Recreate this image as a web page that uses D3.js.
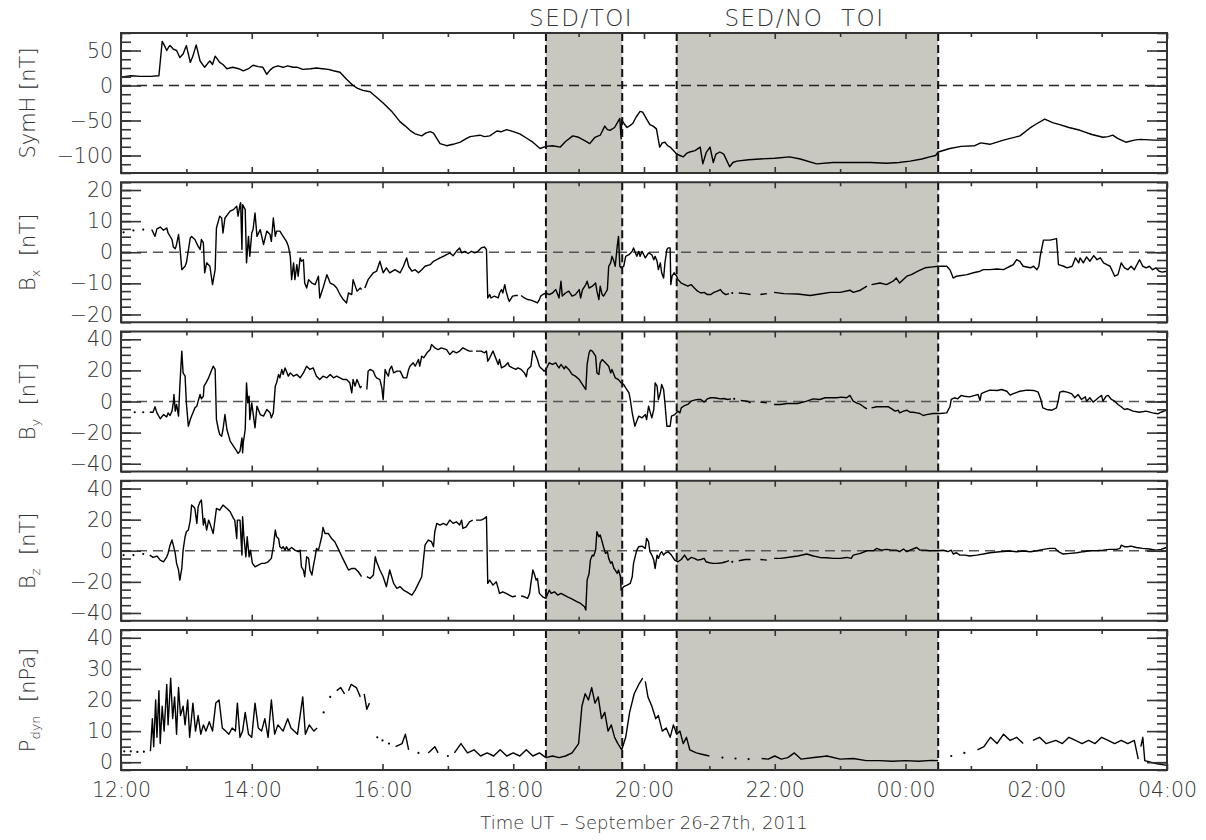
<!DOCTYPE html>
<html><head><meta charset="utf-8">
<script src="https://cdn.jsdelivr.net/npm/d3@7"></script>
<style>
body{margin:0;background:#fff}
text{font-family:"DejaVu Sans",sans-serif;fill:#333;font-weight:200}
</style>
</head><body>
<svg id="chart" width="1206" height="840"></svg>
<script>
// Time is given in hours after 12:00 UT, 26 September 2011.
const hourLabels = ["12:00","14:00","16:00","18:00","20:00","22:00","00:00","02:00","04:00"];
const majorHours = [0,2,4,6,8,10,12,14,16];
const sedIntervals = [
  {label:"SED/TOI", start:6.5, end:7.667},
  {label:"SED/NO TOI", start:8.5, end:12.5}
];

// SYM-H index [nT]
const symH = [[0,12],[0.15,14],[0.3,13],[0.45,13],[0.58,14],[0.63,63],[0.66,58],[0.70,50],[0.73,55],[0.75,57],[0.8,52],[0.85,50],[0.9,40],[0.95,45],[1.0,57],[1.06,33],[1.1,42],[1.15,58],[1.21,35],[1.28,26],[1.33,32],[1.36,35],[1.4,30],[1.44,42],[1.48,37],[1.51,33],[1.56,30],[1.62,24],[1.71,26],[1.8,24],[1.87,21],[1.95,24],[2.02,29],[2.1,27],[2.17,26],[2.23,16],[2.28,22],[2.33,26],[2.4,28],[2.48,26],[2.55,28],[2.63,26],[2.7,26],[2.78,23],[2.9,24],[2.99,25],[3.08,24],[3.17,23],[3.25,21],[3.35,19],[3.45,9],[3.55,0],[3.62,-4],[3.70,-7],[3.81,-9],[3.9,-16],[4.01,-25],[4.15,-38],[4.27,-52],[4.35,-58],[4.42,-64],[4.5,-69],[4.60,-72],[4.66,-68],[4.73,-66],[4.78,-68],[4.88,-83],[4.98,-86],[5.08,-84],[5.19,-81],[5.28,-76],[5.34,-73],[5.42,-72],[5.49,-71],[5.56,-73],[5.64,-72],[5.75,-65],[5.82,-66],[5.90,-63],[6.0,-66],[6.10,-69],[6.2,-75],[6.30,-81],[6.41,-90],[6.50,-87],[6.6,-86],[6.72,-88],[6.8,-80],[6.91,-72],[7.0,-74],[7.1,-79],[7.17,-83],[7.25,-74],[7.33,-71],[7.40,-58],[7.44,-63],[7.48,-64],[7.55,-60],[7.63,-47],[7.65,-76],[7.66,-49],[7.7,-55],[7.74,-60],[7.79,-57],[7.83,-54],[7.88,-45],[7.94,-37],[7.98,-38],[8.04,-48],[8.09,-56],[8.14,-58],[8.19,-62],[8.24,-88],[8.28,-82],[8.32,-81],[8.36,-86],[8.40,-88],[8.45,-93],[8.50,-98],[8.55,-100],[8.60,-102],[8.65,-97],[8.70,-95],[8.78,-93],[8.86,-88],[8.90,-112],[8.95,-96],[9.01,-88],[9.06,-110],[9.1,-98],[9.16,-95],[9.22,-98],[9.31,-116],[9.36,-110],[9.42,-108],[9.6,-106],[9.77,-105],[10.0,-104],[10.23,-102],[10.39,-105],[10.64,-112],[10.89,-110],[11.2,-110],[11.46,-110],[11.71,-111],[11.9,-110],[12.07,-108],[12.25,-105],[12.37,-102],[12.46,-100],[12.50,-95],[12.68,-90],[12.85,-87],[13.06,-86],[13.15,-82],[13.29,-84],[13.5,-78],[13.75,-72],[13.90,-61],[14.0,-55],[14.13,-48],[14.25,-53],[14.36,-56],[14.5,-60],[14.67,-64],[14.85,-70],[15.02,-74],[15.1,-73],[15.17,-71],[15.25,-76],[15.37,-81],[15.5,-78],[15.59,-77],[15.8,-78],[16.0,-78]];

// IMF Bx [nT]
const bx = [[0.04,6.4],null,[0.19,7.0],null,[0.34,7.3],null,[0.47,7.3],[0.52,5.1],[0.55,7.5],[0.60,8.1],[0.65,7.1],[0.70,7.8],[0.72,6.2],[0.78,4.1],[0.80,1.7],[0.83,1.1],[0.85,2.5],[0.88,5.7],[0.90,1.9],[0.93,-5.6],[0.98,-4.5],[1.00,-3.4],[1.06,4.6],[1.08,5.1],[1.13,4.1],[1.18,1.9],[1.21,0.9],[1.23,4.1],[1.26,3.0],[1.28,-6.6],[1.31,-3.4],[1.36,-4.5],[1.40,-10.4],[1.44,-5.6],[1.46,7.8],[1.51,11.6],[1.54,11.0],[1.56,6.2],[1.59,11.0],[1.67,13.2],[1.72,13.7],[1.77,14.8],[1.79,11.6],[1.82,15.3],[1.83,15.9],[1.85,0.9],[1.86,15.3],[1.90,13.7],[1.92,-3.4],[1.95,5.1],[1.97,-1.3],[2.00,6.2],[2.02,7.3],[2.05,12.6],[2.08,5.1],[2.13,7.3],[2.18,2.5],[2.23,6.8],[2.28,5.7],[2.30,3.5],[2.33,11.0],[2.36,5.1],[2.38,6.8],[2.43,6.8],[2.48,5.1],[2.53,3.5],[2.56,1.9],[2.59,-1.3],[2.61,-8.8],[2.64,-3.4],[2.66,-8.8],[2.69,-4.0],[2.71,-7.7],[2.74,-1.8],[2.76,-2.9],[2.79,-2.4],[2.81,-9.9],[2.84,-11.5],[2.87,-8.8],[2.92,-9.9],[2.97,-10.4],[3.02,-7.7],[3.04,-14.7],[3.09,-11.5],[3.15,-7.2],[3.20,-9.9],[3.25,-10.4],[3.30,-11.5],[3.35,-13.6],[3.40,-15.2],[3.45,-16.3],[3.48,-13.1],[3.53,-13.6],[3.55,-8.8],[3.61,-12.5],[3.66,-11.5],[3.68,-12.0],null,[3.73,-11.5],[3.78,-8.8],[3.86,-6.6],[3.91,-6.1],[3.96,-2.9],[4.01,-6.6],[4.06,-5.0],[4.11,-6.6],[4.19,-5.6],[4.27,-6.6],[4.32,-4.5],[4.37,-1.8],[4.40,-4.5],[4.45,-6.1],[4.50,-5.6],[4.55,-6.6],[4.60,-5.6],[4.65,-4.5],[4.73,-4.0],[4.78,-2.9],[4.83,-2.4],[4.88,-1.8],[4.93,-1.3],[4.98,-0.8],[5.03,-0.2],[5.08,-1.1],[5.13,0.3],[5.18,1.4],[5.21,-0.2],[5.26,0.3],[5.31,-0.4],[5.36,0.3],[5.41,-0.2],[5.46,0.3],[5.51,1.4],[5.56,1.7],[5.59,0.9],[5.61,-14.7],[5.64,-13.6],[5.66,-14.7],[5.71,-14.1],[5.77,-14.7],[5.79,-13.1],[5.82,-12.0],[5.84,-13.1],[5.87,-10.4],[5.89,-12.5],[5.92,-14.7],[5.94,-15.8],[5.99,-14.1],[6.04,-13.9],[6.07,-13.9],null,[6.12,-13.9],[6.17,-14.7],[6.22,-15.2],[6.27,-15.4],[6.32,-15.8],[6.37,-16.3],[6.40,-15.2],[6.42,-14.1],[6.45,-13.6],[6.50,-13.1],[6.55,-13.6],[6.60,-13.1],[6.65,-12.0],[6.68,-13.6],[6.70,-14.7],[6.73,-9.3],[6.75,-14.1],[6.80,-13.1],[6.85,-12.5],[6.90,-14.1],[6.95,-13.6],[7.01,-12.0],[7.03,-14.7],[7.06,-12.0],[7.11,-10.4],[7.13,-9.3],[7.16,-11.5],[7.21,-10.9],[7.26,-9.9],[7.28,-12.5],[7.31,-15.2],[7.33,-10.9],[7.36,-13.6],[7.38,-14.1],[7.41,-13.1],[7.44,-12.0],[7.46,-4.5],[7.49,-3.4],[7.51,-1.3],[7.54,-2.9],[7.56,-4.5],[7.59,1.9],[7.61,5.1],[7.63,-4.5],[7.65,-5.0],[7.69,-4.5],[7.72,-1.3],[7.77,-0.8],[7.82,0.3],[7.84,1.4],[7.87,-0.2],[7.89,-1.3],[7.92,0.3],[7.94,-1.3],[7.97,0.3],[8.02,-1.8],[8.07,-0.2],[8.12,-0.8],[8.15,-2.4],[8.17,-1.3],[8.20,-2.9],[8.22,-5.6],[8.25,-3.4],[8.27,-6.6],[8.30,-8.3],[8.32,-3.4],[8.35,0.9],[8.37,1.4],[8.40,1.4],[8.41,-10.4],[8.43,-7.7],[8.46,-6.6],[8.50,-7.7],[8.52,-8.8],[8.57,-9.9],[8.62,-10.4],[8.67,-10.9],[8.72,-10.4],[8.77,-11.5],[8.82,-12.5],[8.87,-13.1],[8.92,-12.9],[8.97,-13.6],[9.02,-13.6],[9.07,-12.9],[9.12,-12.5],[9.17,-12.0],[9.20,-12.9],[9.25,-13.6],[9.30,-13.3],null,[9.35,-13.1],null,[9.45,-13.1],[9.55,-13.3],[9.63,-13.6],null,[9.78,-13.6],[9.88,-13.3],null,[9.99,-12.9],[10.14,-13.3],[10.35,-13.4],[10.54,-13.9],[10.69,-13.4],[10.85,-12.9],[11.00,-12.9],[11.15,-12.2],[11.20,-12.9],[11.31,-12.2],[11.41,-10.9],null,[11.48,-10.4],[11.61,-9.9],[11.71,-10.4],[11.81,-9.3],[11.86,-8.3],[11.91,-9.9],[12.02,-7.7],[12.09,-7.2],[12.14,-6.6],[12.19,-6.1],[12.24,-5.6],[12.30,-5.0],[12.42,-4.7],[12.50,-4.5],[12.63,-4.5],[12.68,-5.6],[12.73,-8.3],[12.78,-7.7],[12.94,-7.2],[13.04,-6.6],[13.14,-6.1],[13.19,-5.6],[13.29,-5.6],[13.40,-5.4],[13.50,-5.6],[13.55,-5.0],[13.60,-4.5],[13.65,-4.0],[13.70,-2.4],[13.75,-2.9],[13.80,-4.5],[13.91,-5.0],[13.96,-4.5],[14.01,-5.6],[14.04,-4.5],[14.06,-1.3],[14.11,3.9],[14.21,3.9],[14.31,4.4],[14.34,-4.0],[14.42,-4.5],[14.47,-5.0],[14.55,-4.5],[14.60,-1.8],[14.65,-3.4],[14.67,-1.8],[14.72,-3.4],[14.77,-1.5],[14.82,-2.9],[14.88,-1.1],[14.93,-2.4],[14.98,-1.8],[15.03,-3.4],[15.08,-4.0],[15.13,-4.5],[15.20,-7.7],[15.25,-7.2],[15.30,-3.4],[15.35,-5.0],[15.40,-5.6],[15.45,-4.5],[15.50,-5.6],[15.58,-2.4],[15.63,-4.5],[15.68,-5.0],[15.73,-4.5],[15.78,-5.6],[15.83,-5.0],[15.88,-6.1],[15.93,-6.4],[15.99,-6.1]];

// IMF By [nT]
const by = [[0.21,-6.9],null,[0.34,-6.9],null,[0.44,-6.9],[0.49,-6.9],[0.52,-3.4],[0.55,-7.3],[0.60,-11.1],[0.65,-8.4],[0.70,-9.9],[0.72,-7.3],[0.75,-9.0],[0.78,-6.2],[0.80,-0.9],[0.81,4.5],[0.83,-6.2],[0.85,-1.9],[0.88,-9.4],[0.90,9.9],[0.93,32.4],[0.95,18.4],[0.98,16.3],[1.00,-0.9],[1.03,-15.9],[1.06,-11.6],[1.08,-9.4],[1.11,-6.2],[1.13,-4.1],[1.16,-3.0],[1.18,0.2],[1.21,4.5],[1.23,1.7],[1.26,3.4],[1.27,9.9],[1.30,12.0],[1.34,15.2],[1.41,22.7],[1.44,20.6],[1.46,-11.6],[1.49,-18.0],[1.51,-21.2],[1.54,-22.3],[1.56,-18.0],[1.59,-8.4],[1.62,-18.0],[1.67,-25.5],[1.72,-28.7],[1.77,-31.9],[1.79,-33.4],[1.82,-31.9],[1.85,-23.4],[1.86,-33.0],[1.87,-26.6],[1.90,-18.0],[1.92,12.0],[1.94,-0.9],[1.96,3.4],[1.97,-11.6],[2.00,-0.9],[2.02,-7.3],[2.05,-16.9],[2.08,-3.0],[2.13,-8.4],[2.18,-9.4],[2.23,-5.1],[2.28,-7.3],[2.30,-10.5],[2.33,-7.3],[2.36,9.9],[2.38,12.0],[2.41,17.4],[2.43,15.2],[2.46,20.6],[2.48,17.4],[2.51,21.6],[2.53,19.5],[2.56,16.3],[2.59,18.4],[2.64,16.3],[2.69,17.4],[2.74,15.2],[2.79,18.4],[2.84,22.7],[2.89,20.6],[2.94,21.6],[2.99,16.3],[3.04,14.1],[3.09,16.3],[3.15,15.2],[3.20,17.4],[3.25,15.2],[3.30,16.3],[3.35,15.2],[3.40,14.1],[3.45,14.1],[3.50,12.0],[3.53,5.6],[3.55,14.1],[3.58,9.9],[3.61,14.1],[3.63,12.0],[3.66,8.8],[3.68,9.9],null,[3.76,7.7],[3.78,19.5],[3.81,20.6],[3.86,19.5],[3.89,16.3],[3.91,15.2],[3.96,14.1],[3.99,8.8],[4.01,1.3],[4.04,20.6],[4.06,18.4],[4.09,16.3],[4.11,20.6],[4.14,22.7],[4.17,18.4],[4.22,19.5],[4.27,19.5],[4.32,15.2],[4.37,15.2],[4.40,20.6],[4.42,22.7],[4.47,24.9],[4.50,22.7],[4.55,27.0],[4.57,22.7],[4.60,29.1],[4.63,28.1],[4.68,31.3],[4.73,33.4],[4.75,36.6],[4.80,34.5],[4.85,33.4],[4.90,34.5],[4.98,33.4],[5.03,30.2],[5.08,32.4],[5.13,31.3],[5.18,32.4],[5.23,34.5],[5.28,33.4],[5.33,32.4],[5.38,32.4],null,[5.43,32.4],[5.51,32.4],[5.56,31.3],[5.59,32.4],[5.61,25.9],[5.64,28.1],[5.69,32.4],[5.74,27.0],[5.77,23.8],[5.79,27.0],[5.82,21.6],[5.87,22.7],[5.92,24.9],[5.94,22.7],[5.99,21.6],[6.04,20.6],[6.07,21.6],[6.12,20.6],[6.17,18.4],[6.20,15.9],[6.22,20.6],[6.27,22.7],[6.30,32.4],[6.32,32.4],[6.35,29.1],[6.37,27.0],[6.40,22.7],[6.42,21.6],[6.45,20.6],[6.47,19.5],[6.50,20.6],[6.55,24.9],[6.60,23.8],[6.65,24.9],[6.68,22.7],[6.70,21.6],[6.73,23.8],[6.75,22.7],[6.78,21.0],[6.80,22.7],[6.85,20.6],[6.90,17.4],[6.95,16.3],[7.01,14.1],[7.06,10.9],[7.11,7.7],[7.13,23.8],[7.16,31.3],[7.18,33.0],[7.21,32.4],[7.26,29.1],[7.28,18.4],[7.31,17.4],[7.33,24.9],[7.36,27.0],[7.41,24.9],[7.46,22.7],[7.49,18.4],[7.51,20.6],[7.56,15.2],[7.61,14.1],[7.65,12.0],[7.69,10.9],[7.72,8.8],[7.77,5.6],[7.79,1.3],[7.82,-7.3],[7.86,-15.9],[7.89,-12.6],[7.92,-9.4],[7.97,-10.5],[8.02,-8.4],[8.04,-11.6],[8.07,-3.0],[8.09,-6.2],[8.12,-10.5],[8.15,-5.1],[8.17,12.0],[8.20,9.9],[8.22,1.3],[8.25,5.6],[8.27,10.9],[8.30,7.7],[8.32,-0.9],[8.35,-15.9],[8.40,-15.9],[8.42,-9.4],[8.47,-8.4],[8.52,-6.2],[8.55,-7.3],[8.57,-4.1],[8.62,-2.6],[8.67,-1.9],[8.72,0.2],[8.77,0.9],[8.82,1.3],[8.87,1.3],[8.92,-0.4],[8.97,1.7],[9.02,2.4],[9.07,2.4],[9.12,2.1],[9.17,1.7],[9.22,1.9],[9.28,1.3],[9.33,1.7],null,[9.38,1.7],null,[9.48,0.6],[9.58,0.2],[9.63,-0.9],null,[9.78,-0.4],[9.88,-0.9],null,[9.99,-1.9],[10.09,-1.9],[10.19,-1.3],[10.35,-1.3],[10.49,0.2],[10.59,1.7],[10.69,1.3],[10.77,2.4],[10.85,2.4],[10.95,2.4],[11.02,2.8],[11.10,2.4],[11.15,3.9],[11.17,2.4],[11.20,0.2],[11.25,-0.9],[11.31,-1.9],[11.36,-3.4],[11.41,-4.7],null,[11.48,-4.1],[11.56,-3.4],[11.66,-3.4],[11.74,-3.4],[11.79,-4.7],[11.84,-6.2],[11.89,-5.6],[11.91,-7.3],[11.97,-6.2],[12.02,-5.6],[12.07,-6.9],[12.12,-6.9],[12.17,-7.3],[12.22,-7.7],[12.27,-9.0],[12.32,-8.4],[12.42,-7.7],[12.53,-7.7],[12.63,-7.3],[12.68,-3.4],[12.70,1.3],[12.75,2.4],[12.80,1.7],[12.85,3.9],[12.90,3.4],[12.98,3.0],[13.06,3.9],[13.11,4.5],[13.14,0.6],[13.16,5.1],[13.21,6.0],[13.29,7.3],[13.40,7.1],[13.47,7.7],[13.55,6.6],[13.60,4.1],[13.65,5.1],[13.75,6.6],[13.86,7.3],[13.96,7.1],[14.03,6.0],[14.07,1.3],[14.10,-4.1],[14.16,-5.1],[14.24,-5.6],[14.31,-4.1],[14.34,1.3],[14.36,6.0],[14.41,6.6],[14.47,6.0],[14.54,5.1],[14.59,2.4],[14.64,4.5],[14.69,1.3],[14.75,3.0],[14.77,0.2],[14.82,2.4],[14.87,-0.4],[14.92,1.3],[14.95,2.4],[15.00,3.9],[15.02,0.2],[15.07,3.4],[15.10,3.9],[15.15,1.3],[15.20,0.2],[15.25,-1.9],[15.30,-3.4],[15.35,-5.1],[15.40,-4.7],[15.48,-6.2],[15.58,-6.9],[15.68,-6.2],[15.78,-7.3],[15.86,-7.9],[15.91,-6.9],[15.99,-5.6]];

// IMF Bz [nT]
const bz = [[0.04,-2.8],null,[0.19,-2.8],null,[0.34,-2.1],null,[0.44,-2.8],[0.49,-4.3],[0.55,-3.4],[0.60,-6.0],[0.65,-7.1],[0.70,-3.9],[0.72,-1.7],[0.75,3.6],[0.78,6.9],[0.80,3.6],[0.83,-1.7],[0.85,-8.1],[0.88,-12.4],[0.90,-18.9],[0.93,-11.4],[0.95,0.4],[0.98,9.0],[1.00,12.2],[1.03,13.3],[1.06,19.7],[1.08,29.4],[1.11,28.3],[1.13,27.2],[1.16,17.6],[1.18,28.3],[1.21,31.5],[1.23,32.6],[1.26,16.5],[1.28,20.8],[1.31,13.3],[1.34,19.7],[1.36,17.6],[1.41,11.1],[1.46,27.2],[1.51,26.1],[1.56,29.4],[1.62,27.2],[1.67,25.1],[1.72,20.8],[1.74,19.7],[1.77,7.9],[1.78,19.7],[1.82,19.7],[1.85,-2.8],[1.86,21.9],[1.88,9.0],[1.91,-3.9],[1.93,9.0],[1.96,-3.9],[1.98,0.4],[2.01,-8.1],[2.05,-10.3],[2.10,-9.2],[2.15,-8.1],[2.20,-8.1],[2.25,-7.1],[2.30,-4.9],[2.33,2.6],[2.36,13.3],[2.38,9.0],[2.41,7.9],[2.43,2.6],[2.46,1.5],[2.48,2.6],[2.51,0.4],[2.53,2.6],[2.56,0.4],[2.61,2.1],[2.66,0.4],[2.71,-0.6],[2.74,0.4],[2.76,-10.3],[2.79,-12.4],[2.81,-16.7],[2.84,-3.9],[2.87,-4.9],[2.89,-12.4],[2.92,-15.6],[2.94,-10.3],[2.97,-3.9],[2.99,1.5],[3.02,0.4],[3.04,3.6],[3.07,9.0],[3.09,15.0],[3.12,11.1],[3.17,11.1],[3.22,7.9],[3.27,5.8],[3.32,1.5],[3.38,-3.9],[3.43,-8.1],[3.48,-12.4],[3.53,-11.4],[3.58,-11.4],[3.63,-13.5],[3.68,-16.7],null,[3.76,-16.7],[3.81,-17.8],[3.86,-15.6],[3.89,-3.9],[3.91,-7.1],[3.96,-12.4],[4.01,-16.7],[4.06,-23.1],[4.11,-12.4],[4.17,-21.0],[4.22,-24.2],[4.27,-23.1],[4.32,-25.3],[4.37,-26.4],[4.45,-28.5],[4.50,-25.3],[4.55,-21.0],[4.60,-16.7],[4.65,3.6],[4.70,6.9],[4.75,5.8],[4.78,2.6],[4.80,12.2],[4.83,17.6],[4.88,16.5],[4.93,17.6],[4.98,16.5],[5.03,19.7],[5.08,17.6],[5.13,18.6],[5.18,16.5],[5.21,19.7],[5.23,14.4],[5.28,15.4],[5.33,18.6],[5.38,19.7],null,[5.43,19.7],[5.51,19.7],[5.56,20.8],[5.59,21.9],[5.61,-21.0],[5.64,-18.9],[5.69,-22.1],[5.74,-19.9],[5.77,-24.2],[5.79,-27.4],[5.84,-26.4],[5.89,-27.4],[5.94,-28.5],[5.99,-29.6],[6.04,-29.1],null,[6.12,-29.1],[6.17,-29.6],[6.22,-30.6],[6.25,-27.4],[6.27,-21.0],[6.30,-12.4],[6.32,-14.6],[6.35,-18.9],[6.37,-17.8],[6.40,-27.4],[6.45,-29.6],[6.50,-30.6],[6.55,-25.3],[6.58,-27.4],[6.63,-26.4],[6.68,-28.5],[6.73,-27.4],[6.78,-28.5],[6.83,-29.6],[6.88,-30.6],[6.93,-31.7],[6.98,-32.8],[7.03,-33.9],[7.09,-36.0],[7.11,-38.1],[7.13,-18.9],[7.16,-14.6],[7.18,-6.0],[7.21,-2.8],[7.23,-3.4],[7.26,0.4],[7.28,12.2],[7.31,9.0],[7.33,10.1],[7.36,5.8],[7.38,2.6],[7.41,-1.7],[7.44,-0.6],[7.46,-4.9],[7.49,-8.1],[7.51,-7.1],[7.54,-11.4],[7.56,-12.4],[7.59,-14.6],[7.61,-12.4],[7.64,-16.7],[7.65,-25.3],[7.69,-23.1],[7.74,-22.1],[7.79,-21.0],[7.82,-16.7],[7.84,-8.1],[7.87,-2.8],[7.89,0.4],[7.92,2.6],[7.97,3.0],[8.02,1.5],[8.04,7.9],[8.07,5.8],[8.09,-0.6],[8.12,-2.8],[8.15,-6.0],[8.17,-11.4],[8.20,-2.8],[8.22,-4.9],[8.25,-1.7],[8.27,-0.6],[8.30,-2.8],[8.32,-1.7],[8.37,-0.6],[8.42,-2.8],[8.47,-6.0],[8.52,-7.1],[8.57,-5.6],[8.62,-2.8],[8.67,-6.0],[8.72,-4.3],[8.77,-4.9],[8.82,-6.0],[8.87,-5.6],[8.92,-4.9],[8.95,-7.1],[9.00,-7.7],[9.05,-8.1],[9.12,-8.1],[9.20,-7.7],[9.25,-7.1],[9.30,-6.4],null,[9.35,-7.1],null,[9.45,-6.4],[9.55,-5.6],[9.63,-5.6],null,[9.78,-5.6],[9.88,-6.0],null,[9.99,-4.9],[10.09,-4.9],[10.19,-4.3],[10.35,-3.4],[10.49,-2.1],[10.59,-3.4],[10.69,-4.3],[10.79,-4.5],[10.90,-4.9],[11.00,-4.9],[11.10,-4.3],[11.17,-4.9],[11.20,-2.8],[11.31,-1.7],[11.41,0],[11.51,0],[11.56,1.5],[11.63,0.4],[11.71,0.9],[11.79,0.4],[11.86,0.4],[11.91,-0.6],[11.97,1.1],[12.02,-0.6],[12.07,0.4],[12.17,2.1],[12.22,0.4],[12.30,0.4],[12.37,0],[12.47,0],[12.58,0.4],[12.65,-0.6],[12.70,0.4],[12.73,-2.1],[12.78,-1.3],[12.83,-2.8],[12.91,-2.8],[12.98,-3.4],[13.09,-2.8],[13.19,-2.1],[13.29,-1.3],[13.44,-0.6],[13.60,-0.2],[13.70,-0.6],[13.80,-0.2],[13.91,-0.6],[14.01,0],[14.11,0.9],[14.21,1.5],[14.29,1.5],[14.34,-0.6],[14.41,-2.1],[14.52,-1.7],[14.62,-1.3],[14.72,-0.6],[14.82,0],[14.92,0],[15.02,0.4],[15.12,0.9],[15.23,0.9],[15.28,1.5],[15.30,3.6],[15.35,2.6],[15.40,2.6],[15.45,3.0],[15.53,2.1],[15.63,1.5],[15.73,1.1],[15.83,0.4],[15.91,0.9],[15.99,2.1]];

// Solar wind dynamic pressure [nPa]
const pdyn = [[0.05,3.5],null,[0.15,3.5],null,[0.25,3.3],null,[0.35,3.4],null,[0.45,3.5],[0.48,14],[0.50,5],[0.53,20],[0.55,8],[0.58,23],[0.60,6],[0.63,18],[0.66,10],[0.70,25],[0.72,12],[0.76,27],[0.79,14],[0.82,21],[0.85,9],[0.88,24],[0.91,15],[0.95,18],[0.98,12],[1.02,20],[1.05,8],[1.10,19],[1.14,10],[1.18,15],[1.22,9],[1.26,12],[1.30,10],[1.35,13],[1.40,10],[1.45,19],[1.50,20],[1.55,11],[1.60,10],[1.65,9],[1.70,11],[1.75,10],[1.78,19],[1.82,8],[1.86,10],[1.90,16],[1.95,9],[2.00,8],[2.05,19],[2.10,11],[2.15,10],[2.20,14],[2.25,8],[2.30,20],[2.35,9],[2.40,12],[2.48,10],[2.55,14],[2.60,11],[2.70,9],[2.78,21],[2.82,9],[2.88,12],[2.95,10],[3.0,11],null,[3.1,16],null,[3.2,21],null,[3.3,23],[3.36,24],[3.42,22],null,[3.48,23],[3.52,25],[3.6,24],[3.66,21],null,[3.72,22],[3.76,17],[3.8,19],null,[3.92,8],null,[4.0,7],null,[4.1,6],null,[4.2,5],[4.3,6],[4.35,9],[4.4,4],null,[4.55,3],null,[4.7,3],[4.8,5],[4.85,3],null,[5.0,2],null,[5.1,3],[5.2,6],[5.3,3],[5.4,4],[5.5,2],[5.6,3],[5.7,2],[5.8,4],[5.9,2],[6.0,3],[6.1,2],[6.2,4],[6.3,2],[6.4,3],[6.5,1.5],[6.6,2],[6.7,1.5],[6.8,2],[6.9,3],[7.0,6],[7.05,18],[7.1,22],[7.15,20],[7.2,24],[7.25,19],[7.3,21],[7.35,14],[7.4,16],[7.45,10],[7.5,12],[7.55,8],[7.6,6],[7.66,4],[7.72,8],[7.78,16],[7.85,22],[7.92,25],[7.98,27],null,[8.02,26],[8.06,21],[8.12,18],[8.18,14],[8.22,15],[8.28,10],[8.34,11],[8.4,8],[8.45,12],[8.5,9],[8.55,10],[8.6,6],[8.65,8],[8.7,4],[8.8,3],[8.9,2.5],[9.0,2],null,[9.2,1.5],null,[9.4,1.2],null,[9.6,1],null,[9.8,1.2],[9.9,1],[10.0,2],[10.1,1],[10.2,1.5],[10.3,3],[10.4,1],[10.6,1.5],[10.8,2],[11.0,1],[11.2,1.2],[11.4,0.5],[11.6,0.5],[11.8,0.3],[12.0,0.5],[12.2,0.3],[12.4,0.6],[12.5,0.5],null,[12.7,2],null,[12.9,3],null,[13.1,4],[13.2,5],[13.3,8],[13.4,6],[13.5,9],[13.6,7],[13.7,8],[13.8,6],null,[13.95,7],[14.05,8],[14.15,6],[14.3,7],[14.4,6],[14.5,8],[14.6,7],[14.7,6],[14.8,7],[14.9,6],[15.0,8],[15.1,7],[15.2,6],[15.3,7],[15.4,6],[15.5,7],[15.56,1],null,[15.6,5],[15.63,8],[15.66,0.5],[15.75,0],[15.85,-0.5],[16.0,-1]];

const panels = [
  {data:symH, domain:[-125,75], major:[-100,-50,0,50], minorStep:12.5, label:["SymH [nT]"], zero:"#222"},
  {data:bx, domain:[-22.5,22.5], major:[-20,-10,0,10,20], minorStep:2.5, label:["B","x","  [nT]"], zero:"#555"},
  {data:by, domain:[-45,45], major:[-40,-20,0,20,40], minorStep:5, label:["B","y","  [nT]"], zero:"#555"},
  {data:bz, domain:[-45,45], major:[-40,-20,0,20,40], minorStep:5, label:["B","z","  [nT]"], zero:"#555"},
  {data:pdyn, domain:[-2.5,42.5], major:[0,10,20,30,40], minorStep:2.5, label:["P","dyn","  [nPa]"], zero:null}
];

const svg = d3.select("#chart");
const left = 121, right = 1167, top0 = 33, panelH = 140, panelGap = 149.25;
const x = d3.scaleLinear().domain([0,16]).range([left,right]);
const fmtHour = h => hourLabels[majorHours.indexOf(h)];

panels.forEach((p, i) => {
  const top = top0 + i*panelGap, bottom = top + panelH;
  const y = d3.scaleLinear().domain(p.domain).range([bottom, top]);
  const g = svg.append("g");

  // shaded SED intervals
  sedIntervals.forEach(s => {
    g.append("rect").attr("x", x(s.start)).attr("y", top)
      .attr("width", x(s.end)-x(s.start)).attr("height", panelH)
      .attr("fill", "#c8c8c0");
  });

  // zero reference
  if (p.zero) {
    g.append("line").attr("x1", left).attr("x2", right).attr("y1", y(0)).attr("y2", y(0))
      .attr("stroke", p.zero).attr("stroke-width", 1.5).attr("stroke-dasharray", "10,6");
  }

  // data trace
  const line = d3.line().defined(d => d !== null).x(d => x(d[0])).y(d => y(d[1]));
  g.append("path").datum(p.data).attr("d", line)
    .attr("fill", "none").attr("stroke", "#000").attr("stroke-width", 1.4).attr("stroke-linejoin", "round");
  // isolated samples
  const lone = p.data.filter((d, k, a) => d !== null && (k === 0 || a[k-1] === null) && (k === a.length-1 || a[k+1] === null));
  g.selectAll("circle.s").data(lone).join("circle").attr("cx", d => x(d[0])).attr("cy", d => y(d[1]))
    .attr("r", 1.1).attr("fill", "#000");

  // interval boundaries
  sedIntervals.forEach(s => [s.start, s.end].forEach(t => {
    g.append("line").attr("x1", x(t)).attr("x2", x(t)).attr("y1", top).attr("y2", bottom)
      .attr("stroke", "#111").attr("stroke-width", 2).attr("stroke-dasharray", "8,4");
  }));

  // y axes, ticks pointing inward on both sides
  const minor = d3.range(p.domain[0], p.domain[1] + 1e-6, p.minorStep);
  g.append("g").attr("transform", `translate(${left},0)`)
    .call(d3.axisLeft(y).tickValues(p.major).tickSizeInner(-20).tickSizeOuter(0).tickPadding(8).tickFormat(d => d < 0 ? "\u2212" + Math.abs(d) : d));
  g.append("g").attr("transform", `translate(${left},0)`)
    .call(d3.axisLeft(y).tickValues(minor).tickSize(-10).tickFormat(""));
  g.append("g").attr("transform", `translate(${right},0)`)
    .call(d3.axisRight(y).tickValues(p.major).tickSize(-20).tickFormat(""));
  g.append("g").attr("transform", `translate(${right},0)`)
    .call(d3.axisRight(y).tickValues(minor).tickSize(-10).tickFormat(""));

  // x axes, top and bottom
  g.append("g").attr("transform", `translate(0,${bottom})`)
    .call(d3.axisBottom(x).tickValues(majorHours).tickSizeInner(-6).tickSizeOuter(0).tickPadding(12).tickFormat(i === panels.length-1 ? fmtHour : ""));
  g.append("g").attr("transform", `translate(0,${bottom})`)
    .call(d3.axisBottom(x).tickValues(d3.range(1,16,2)).tickSize(-4).tickFormat(""));
  g.append("g").attr("transform", `translate(0,${top})`)
    .call(d3.axisTop(x).tickValues(majorHours).tickSize(-6).tickFormat(""));
  g.append("g").attr("transform", `translate(0,${top})`)
    .call(d3.axisTop(x).tickValues(d3.range(1,16,2)).tickSize(-4).tickFormat(""));

  g.selectAll(".domain").remove();
  g.selectAll(".tick line").attr("stroke", "#333").attr("stroke-width", 1.6);
  g.selectAll(".tick text").attr("font-size", 20.5).attr("fill", "#333").attr("font-family", "DejaVu Sans").attr("font-weight", 200);

  // frame
  g.append("rect").attr("x", left).attr("y", top).attr("width", right-left).attr("height", panelH)
    .attr("fill", "none").attr("stroke", "#333").attr("stroke-width", 2);

  // rotated y label
  const lab = g.append("text").attr("transform", `translate(35,${(top+bottom)/2}) rotate(-90)`)
    .attr("text-anchor", "middle").attr("font-size", 21);
  if (p.label.length === 1) lab.text(p.label[0]);
  else {
    lab.append("tspan").text(p.label[0]);
    lab.append("tspan").attr("font-size", 13).attr("dy", 5).text(p.label[1]);
    lab.append("tspan").attr("dy", -5).text(p.label[2]).attr("xml:space","preserve");
  }
});

// interval labels
sedIntervals.forEach(s => {
  svg.append("text").attr("x", (x(s.start)+x(s.end))/2 - 3).attr("y", 26)
    .attr("text-anchor", "middle").attr("font-size", 23).attr("letter-spacing", 1.5)
    .attr("xml:space","preserve").text(s.label.replace(" ", "  "));
});

// x title
svg.append("text").attr("x", (left+right)/2).attr("y", 829).attr("text-anchor", "middle")
  .attr("font-size", 18).text("Time UT \u2013 September 26-27th, 2011");
</script>
</body></html>
